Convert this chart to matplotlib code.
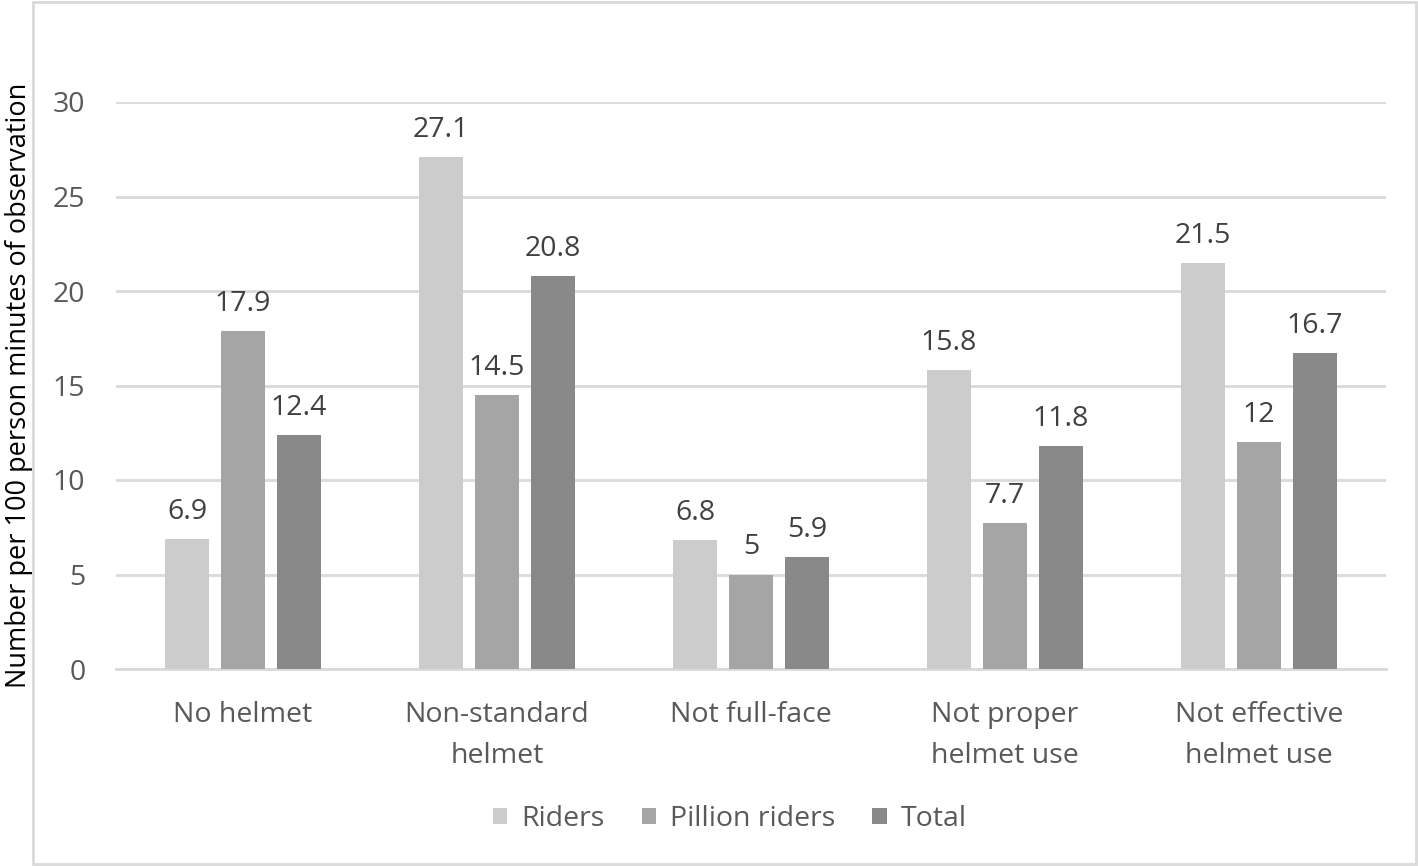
import numpy as np
import matplotlib.pyplot as plt
from matplotlib.patches import Rectangle

categories = ['No helmet', 'Non-standard\nhelmet', 'Not full-face',
              'Not proper\nhelmet use', 'Not effective\nhelmet use']
riders = [6.9, 27.1, 6.8, 15.8, 21.5]
pillion = [17.9, 14.5, 5, 7.7, 12]
total = [12.4, 20.8, 5.9, 11.8, 16.7]
series = ['Riders', 'Pillion riders', 'Total']
colors = ['#CCCCCC', '#A5A5A5', '#898989']

plt.rcParams['font.family'] = ['Open Sans', 'DejaVu Sans']
fs = 20.5

fig = plt.figure(figsize=(14.18, 8.66), dpi=100)
ax = fig.add_axes([116/1418, 197/866, 1270/1418, 567/866])

x = np.arange(len(categories))
w = 0.175
offs = [-0.22, 0, 0.22]
for vals, off, c, name in zip([riders, pillion, total], offs, colors, series):
    bars = ax.bar(x + off, vals, w, color=c, label=name, zorder=3)
    for b, v in zip(bars, vals):
        ax.annotate(f'{v:g}', (b.get_x() + b.get_width()/2, v),
                    xytext=(0, 27), textcoords='offset pixels',
                    ha='center', va='center', fontsize=fs, color='#404040')

ax.set_xlim(-0.5, len(categories) - 0.5)
ax.set_ylim(0, 30)
ax.set_yticks(np.arange(0, 31, 5))
ax.yaxis.grid(True, color='#D9D9D9', lw=2, zorder=0)
for s in ['top', 'right', 'left']:
    ax.spines[s].set_visible(False)
ax.spines['bottom'].set_color('#D9D9D9')
ax.spines['bottom'].set_linewidth(2)
ax.tick_params(length=0, labelsize=fs, colors='#595959')
ax.tick_params(axis='y', pad=22)
ax.tick_params(axis='x', pad=23)
ax.set_xticks(x)
ax.set_xticklabels(categories, linespacing=1.6)
ax.set_ylabel('Number per 100 person minutes of observation', fontsize=19.5,
              color='black', labelpad=14)

# legend sits a little right of the figure centre, like the original
leg = fig.legend(loc='center', bbox_to_anchor=(730/1418, 1 - 819/866), ncol=3,
                 frameon=False, fontsize=fs, handlelength=0.5,
                 handleheight=0.5, columnspacing=1.3, handletextpad=0.5)
for t in leg.get_texts():
    t.set_color('#595959')

fig.patches.append(Rectangle((33/1418, 2/866), 1383/1418, 862/866,
                             transform=fig.transFigure, fill=False,
                             edgecolor='#D9D9D9', lw=2))

fig.savefig('out.png', dpi=100)
